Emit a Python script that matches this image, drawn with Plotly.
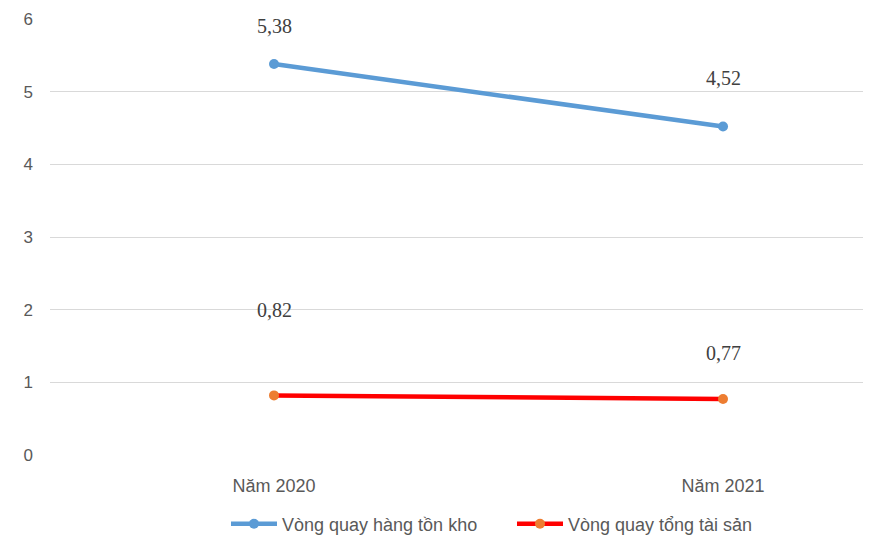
import plotly.graph_objects as go

categories = ["Năm 2020", "Năm 2021"]
inventory_turnover = [5.38, 4.52]
asset_turnover = [0.82, 0.77]
series_names = ["Vòng quay hàng tồn kho", "Vòng quay tổng tài sản"]
y_ticks = [0, 1, 2, 3, 4, 5, 6]

xpos = list(range(len(categories)))

def fmt(v):
    return f"{v:.2f}".replace(".", ",")

fig = go.Figure()
fig.add_trace(go.Scatter(
    x=xpos, y=inventory_turnover, name=series_names[0], mode="lines+markers",
    line=dict(color="#5B9BD5", width=4.5), marker=dict(color="#5B9BD5", size=10),
))
fig.add_trace(go.Scatter(
    x=xpos, y=asset_turnover, name=series_names[1], mode="lines+markers",
    line=dict(color="#FF0000", width=4.5), marker=dict(color="#ED7D31", size=10),
))

label_shift = [[38, 49], [85, 46]]
for s, vals in enumerate([inventory_turnover, asset_turnover]):
    for i, v in enumerate(vals):
        fig.add_annotation(x=xpos[i], y=v, text=fmt(v), showarrow=False,
                           yshift=label_shift[s][i],
                           font=dict(family="Liberation Serif", size=20, color="#404040"))

fig.update_layout(
    width=863, height=532,
    margin=dict(l=42, r=3, t=11, b=85),
    paper_bgcolor="white", plot_bgcolor="white",
    showlegend=True,
    legend=dict(orientation="h", xref="container", yref="container",
                x=0.2526, xanchor="left", y=0.03, yanchor="middle",
                font=dict(family="Liberation Sans", size=18, color="#595959"),
                itemwidth=46, entrywidth=225, entrywidthmode="pixels",
                traceorder="normal"),
    xaxis=dict(range=[-0.4989, 1.3229], tickvals=xpos, ticktext=categories,
               showgrid=False, zeroline=False, showline=False,
               tickfont=dict(family="Liberation Sans", size=18, color="#595959"),
               ticks="", ticklabelstandoff=18),
    yaxis=dict(range=[0, 6], tickvals=y_ticks, showgrid=True, gridcolor="#D9D9D9",
               gridwidth=1.3, zeroline=False, showline=False,
               tickfont=dict(family="Liberation Sans", size=17, color="#595959"),
               ticks="", ticklabelstandoff=16),
)

fig.write_html("out.html")
